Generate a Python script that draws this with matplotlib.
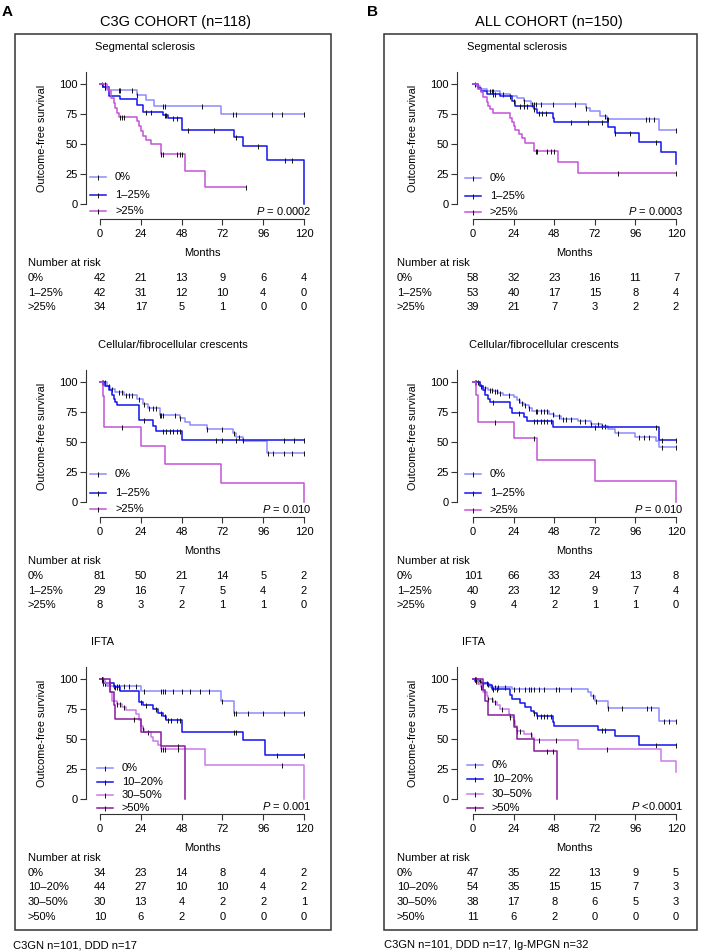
import numpy as np
import matplotlib
matplotlib.use('Agg')
import matplotlib.pyplot as plt
from matplotlib.lines import Line2D
from matplotlib.patches import Rectangle
from matplotlib import transforms

plt.rcParams['font.family'] = ['Liberation Sans', 'DejaVu Sans']
plt.rcParams['mathtext.fontset'] = 'custom'
plt.rcParams['mathtext.it'] = 'Liberation Sans:italic'
plt.rcParams['mathtext.rm'] = 'Liberation Sans'

W, H = 701, 951

months = [0, 24, 48, 72, 96, 120]
yticks = [0, 25, 50, 75, 100]

labels_3 = ['0%', '1\u201325%', '>25%']
labels_4 = ['0%', '10\u201320%', '30\u201350%', '>50%']

# step curves: (month, survival %) after each event; censor times separately
# C3G cohort, segmental sclerosis
seg_c3g_0 = [(0, 100), (2, 97.5), (4, 95), (22, 91), (27, 86.5), (32, 81.7), (71, 75)]
seg_c3g_0_cens = [1, 3, 11, 12, 19, 22, 37, 38, 60, 78, 80, 101, 107, 120]
seg_c3g_1 = [(0, 100), (2, 97.5), (5, 90), (12, 87.5), (22, 82.5), (25, 77), (37, 74), (40, 71.4),
             (48, 61.7), (79, 55.5), (84, 48.6), (98, 36.4), (120, 0)]
seg_c3g_1_cens = [3, 27, 30, 38, 39, 43, 45, 52, 67, 80, 93, 109, 113]
seg_c3g_2 = [(0, 100), (4, 97), (5.5, 94), (6.5, 88), (8, 84), (9, 80), (10, 76), (11, 72.7), (22, 69),
             (23, 65), (24, 61), (25.5, 57), (27, 53), (30, 50), (36, 41.4), (50, 27.6), (62, 13.8)]
seg_c3g_2_cens = [3, 12, 13, 14, 36, 37, 45, 47, 48, 86]
seg_c3g_risk = [[42, 21, 13, 9, 6, 4], [42, 31, 12, 10, 4, 0], [34, 17, 5, 1, 0, 0]]

# ALL cohort, segmental sclerosis
seg_all_0 = [(0, 100), (2, 98), (4, 96), (8, 94), (16, 92), (22, 90), (26, 88), (30, 85.5), (34, 83),
             (67, 80), (69, 77.5), (75, 73.5), (79, 70.5), (110, 61.5)]
seg_all_0_cens = [1, 3, 10, 11, 12, 18, 22, 30, 35, 36, 37, 40, 47, 60, 67, 78, 79, 80, 102, 104, 107, 120]
seg_all_1 = [(0, 100), (3, 97), (5, 94), (8, 92), (16, 90), (23, 86), (25, 81.5), (36, 79), (38, 76),
             (47, 72), (48, 68.5), (80, 64.5), (84, 59), (98, 51.5), (111, 43), (120, 33)]
seg_all_1_cens = [12, 13, 24, 28, 30, 32, 36, 39, 41, 43, 58, 68, 76, 84, 93, 108]
seg_all_2 = [(0, 100), (3, 96), (5, 93), (6, 89), (8, 85), (9, 82), (10, 79), (12, 76), (22, 72),
             (23, 68.5), (24, 65), (25, 61.5), (27, 58), (29, 55), (31, 51), (36, 44), (50, 34.7), (62, 26)]
seg_all_2_cens = [37, 38, 44, 46, 48, 86, 120]
seg_all_risk = [[58, 32, 23, 16, 11, 7], [53, 40, 17, 15, 8, 4], [39, 21, 7, 3, 2, 2]]

# C3G cohort, crescents
cres_c3g_0 = [(0, 100), (4, 97), (6, 94), (9, 92), (14, 89), (22, 86), (25, 82), (28, 78), (35, 72.5),
              (47, 70), (50, 67), (53, 64), (63, 60.5), (78, 57.5), (80, 54.5), (84, 51), (98, 40.5)]
cres_c3g_0_cens = [1, 2, 3, 5, 7, 11, 13, 15, 17, 19, 23, 26, 29, 31, 33, 35, 36, 37, 44, 47, 63, 72,
                   79, 82, 99, 102, 108, 113, 120]
cres_c3g_1 = [(0, 100), (3, 97), (5, 93), (7, 89), (8, 86), (9, 83), (10, 80.5), (23, 68), (31, 63.5),
              (33, 59), (48, 51.7)]
cres_c3g_1_cens = [26, 37, 39, 41, 43, 45, 47, 68, 72, 80, 84, 108, 114, 120]
cres_c3g_2 = [(0, 100), (1.5, 88), (2.5, 62.5), (24, 47), (38, 31.5), (71, 15.5), (120, 0)]
cres_c3g_2_cens = [13]
cres_c3g_risk = [[81, 50, 21, 14, 5, 2], [29, 16, 7, 5, 4, 2], [8, 3, 2, 1, 1, 0]]

# ALL cohort, crescents
cres_all_0 = [(0, 100), (4, 97), (6, 95), (9, 93.5), (12, 92.5), (15, 91), (18, 89.5), (24, 87.5),
              (26, 85), (28, 82.5), (30, 80.5), (33, 78), (35, 75.5), (45, 73.5), (48, 71.5), (52, 69.5),
              (62, 67.5), (70, 65), (76, 63), (80, 60.5), (84, 57.5), (96, 54), (108, 51), (110, 46)]
cres_all_0_cens = [1, 2, 3, 5, 7, 10, 11, 13, 14, 16, 21, 27, 29, 31, 33, 37, 38, 40, 42, 44, 47, 51,
                   53, 55, 58, 63, 66, 70, 74, 76, 78, 86, 98, 101, 104, 112, 120]
cres_all_1 = [(0, 100), (4, 97), (6, 93), (7, 89), (9, 86), (10, 83), (22, 78.5), (23, 74), (30, 70.5),
              (32, 67.5), (47, 62.5), (110, 52)]
cres_all_1_cens = [12, 27, 36, 38, 40, 42, 44, 46, 72, 108, 112, 120]
cres_all_2 = [(0, 100), (1.5, 89), (3, 66.5), (24, 53), (38, 35), (72, 17.5), (120, 0)]
cres_all_2_cens = [13, 36]
cres_all_risk = [[101, 66, 33, 24, 13, 8], [40, 23, 12, 9, 7, 4], [9, 4, 2, 1, 1, 0]]

# C3G cohort, IFTA
ifta_c3g_0 = [(0, 100), (1.5, 97), (4, 94), (24, 90), (71, 82), (79, 71.4)]
ifta_c3g_0_cens = [1, 2, 3, 6, 8, 10, 11, 14, 17, 21, 26, 36, 37, 38, 43, 48, 53, 59, 64, 72, 79, 80,
                   87, 96, 108, 120]
ifta_c3g_1 = [(0, 100), (2, 97), (8, 93.5), (12, 90), (23, 81), (25, 78), (31, 75), (34, 72), (37, 69),
              (39, 65.5), (48, 55.5), (84, 49), (97, 36.5)]
ifta_c3g_1_cens = [1, 3, 5, 9, 10, 11, 24, 27, 33, 36, 38, 40, 42, 45, 47, 79, 80, 104, 120]
ifta_c3g_2 = [(0, 100), (3, 97), (5, 94), (6, 89), (7, 82), (10, 79.5), (13, 77), (15, 74), (21, 71),
              (23, 66), (24, 61), (25, 58), (26, 55.5), (30, 52), (31, 48.5), (34, 45), (36, 42), (62, 28),
              (120, 0)]
ifta_c3g_2_cens = [2, 10, 12, 14, 25, 28, 36, 37, 38, 46, 107]
ifta_c3g_3 = [(0, 100), (6, 89), (8, 78), (9, 67), (24, 55.5), (36, 44.5), (50, 0)]
ifta_c3g_3_cens = [1, 20, 46]
ifta_c3g_risk = [[34, 23, 14, 8, 4, 2], [44, 27, 10, 10, 4, 2], [30, 13, 4, 2, 2, 1], [10, 6, 2, 0, 0, 0]]

# ALL cohort, IFTA
ifta_all_0 = [(0, 100), (2, 98), (4, 95.7), (10, 93.5), (23, 92), (68, 89), (70, 86), (72, 82), (80, 76),
              (110, 65)]
ifta_all_0_cens = [1, 3, 6, 9, 11, 13, 15, 19, 24, 27, 31, 33, 34, 36, 39, 42, 49, 51, 58, 71, 73, 80,
                   88, 103, 105, 113, 116, 120]
ifta_all_1 = [(0, 100), (1, 98), (5, 97), (9, 95), (11, 91.5), (22, 87), (23, 83), (28, 80), (31, 76.5),
              (34, 73), (36, 72), (38, 69), (47, 64), (48, 61), (74, 57.5), (84, 52.5), (98, 45)]
ifta_all_1_cens = [2, 4, 8, 12, 14, 36, 38, 40, 42, 44, 46, 76, 78, 108, 120]
ifta_all_2 = [(0, 100), (3, 96), (5, 93), (6, 89), (8, 86), (9, 83), (12, 81), (14, 78), (16, 75),
              (21, 71), (22, 68.5), (24, 65), (25, 61), (26, 57), (30, 54), (35, 51), (36, 49), (62, 42),
              (111, 31.5), (120, 22.5)]
ifta_all_2_cens = [2, 5, 9, 11, 13, 17, 22, 24, 26, 28, 34, 39, 49, 79]
ifta_all_3 = [(0, 100), (6, 91), (7, 82), (9, 70), (24, 60), (26, 50), (36, 40), (49.5, 0)]
ifta_all_3_cens = [1, 44, 47]
ifta_all_risk = [[47, 35, 22, 13, 9, 5], [54, 35, 15, 15, 7, 3], [38, 17, 8, 6, 5, 3], [11, 6, 2, 0, 0, 0]]

col_light = '#8c8cff'
col_blue = '#1414ee'
col_violet = '#c452d6'
col_lilac = '#cc7ae8'
col_purple = '#8a1a9c'
colors_3 = [col_light, col_blue, col_violet]
colors_4 = [col_light, col_blue, col_lilac, col_purple]

fig = plt.figure(figsize=(W / 100, H / 100), dpi=100)


def fx(x):
    return x / W


def fy(y):
    return 1 - y / H


def step_xy(pts, cens):
    t = [p[0] for p in pts]
    s = [p[1] for p in pts]
    end = max(t[-1], max(cens))
    return t + [end], s + [s[-1]]


def surv_at(pts, c):
    t = np.array([p[0] for p in pts])
    s = np.array([p[1] for p in pts])
    i = np.searchsorted(t, c, side='right') - 1
    return s[i]


# column layout (pixels)
cols = {
    'L': dict(x0=100, x1=304, off=14, ylab=42, risk=28),
    'R': dict(x0=473, x1=676, off=16, ylab=413, risk=397),
}
rows = [204, 502, 799]


def panel(col, row, subtitle, sub_x, curves, labels, colors, risk, pval, leg_x, leg_dy):
    c = cols[col]
    x0, x1 = c['x0'], c['x1']
    zero = rows[row]
    ax = fig.add_axes([fx(x0), fy(zero), (x1 - x0) / W, 132 / H])
    ax.set_xlim(0, 120)
    ax.set_ylim(0, 110)
    for (pts, cens), colr in zip(curves, colors):
        t, s = step_xy(pts, cens)
        ax.step(t, s, where='post', color=colr, lw=1.1, clip_on=False)
        ax.plot(cens, [surv_at(pts, v) for v in cens], ls='none', marker='|', ms=3.6,
                mew=0.7, color='#111111', clip_on=False)
    for side in ['top', 'right']:
        ax.spines[side].set_visible(False)
    ax.spines['left'].set_position(('outward', c['off'] * 0.72))
    ax.spines['bottom'].set_position(('outward', 15 * 0.72))
    ax.spines['left'].set_bounds(0, 110)
    ax.spines['bottom'].set_bounds(0, 120)
    for side in ['left', 'bottom']:
        ax.spines[side].set_linewidth(0.8)
        ax.spines[side].set_color('#333333')
    ax.set_xticks(months)
    ax.set_yticks(yticks)
    ax.tick_params(axis='both', labelsize=8, length=4, width=0.8, color='#333333')
    ax.tick_params(axis='x', pad=3)
    ax.tick_params(axis='y', pad=2)
    ax.patch.set_alpha(0)

    fig.text(fx(sub_x), fy(zero - 157), subtitle, ha='left', va='center', fontsize=8)
    fig.text(fx(c['ylab']), fy(zero - 66), 'Outcome-free survival', rotation=90,
             ha='center', va='center', fontsize=7.8)
    fig.text(fx((x0 + x1) / 2), fy(zero + 49), 'Months', ha='center', va='center', fontsize=8)
    fig.text(fx(x1 + 8), fy(zero + 7), pval, ha='right', va='center', fontsize=8)

    # legend
    for lab, colr, dy in zip(labels, colors, leg_dy):
        yy = fy(zero + dy)
        fig.add_artist(Line2D([fx(leg_x), fx(leg_x + 16)], [yy, yy], color=colr, lw=1.1,
                              transform=fig.transFigure))
        fig.add_artist(Line2D([fx(leg_x + 8)], [yy], marker='|', ms=3.6, mew=0.7, color='#111111',
                              transform=fig.transFigure))
        fig.text(fx(leg_x + 25), yy, lab, ha='left', va='center', fontsize=8)

    # number at risk table
    fig.text(fx(c['risk']), fy(zero + 59), 'Number at risk', ha='left', va='center', fontsize=8)
    trans = transforms.blended_transform_factory(ax.transData, fig.transFigure)
    for i, (lab, vals) in enumerate(zip(labels, risk)):
        yy = fy(zero + 74 + 14.5 * i)
        fig.text(fx(c['risk']), yy, lab, ha='left', va='center', fontsize=8)
        for m, v in zip(months, vals):
            ax.text(m, yy, str(v), transform=trans, ha='center', va='center', fontsize=8, clip_on=False)


panel('L', 0, 'Segmental sclerosis', 95,
      [(seg_c3g_0, seg_c3g_0_cens), (seg_c3g_1, seg_c3g_1_cens), (seg_c3g_2, seg_c3g_2_cens)],
      labels_3, colors_3, seg_c3g_risk, '$P$ = 0.0002', 90, [-27, -9, 7])
panel('R', 0, 'Segmental sclerosis', 467,
      [(seg_all_0, seg_all_0_cens), (seg_all_1, seg_all_1_cens), (seg_all_2, seg_all_2_cens)],
      labels_3, colors_3, seg_all_risk, '$P$ = 0.0003', 465, [-26, -8, 8])
panel('L', 1, 'Cellular/fibrocellular crescents', 98,
      [(cres_c3g_0, cres_c3g_0_cens), (cres_c3g_1, cres_c3g_1_cens), (cres_c3g_2, cres_c3g_2_cens)],
      labels_3, colors_3, cres_c3g_risk, '$P$ = 0.010', 90, [-28, -9, 7])
panel('R', 1, 'Cellular/fibrocellular crescents', 469,
      [(cres_all_0, cres_all_0_cens), (cres_all_1, cres_all_1_cens), (cres_all_2, cres_all_2_cens)],
      labels_3, colors_3, cres_all_risk, '$P$ = 0.010', 465, [-28, -9, 8])
panel('L', 2, 'IFTA', 91,
      [(ifta_c3g_0, ifta_c3g_0_cens), (ifta_c3g_1, ifta_c3g_1_cens), (ifta_c3g_2, ifta_c3g_2_cens),
       (ifta_c3g_3, ifta_c3g_3_cens)],
      labels_4, colors_4, ifta_c3g_risk, '$P$ = 0.001', 97, [-31, -17, -4, 9])
panel('R', 2, 'IFTA', 462,
      [(ifta_all_0, ifta_all_0_cens), (ifta_all_1, ifta_all_1_cens), (ifta_all_2, ifta_all_2_cens),
       (ifta_all_3, ifta_all_3_cens)],
      labels_4, colors_4, ifta_all_risk, '$P$ <0.0001', 467, [-34, -20, -5, 9])

# boxes around each cohort
for left, right in [(15, 331), (384, 697)]:
    fig.add_artist(Rectangle((fx(left), fy(930)), (right - left) / W, (930 - 34) / H,
                             transform=fig.transFigure, fill=False, lw=1.1, ec='#333333'))

fig.text(fx(2), fy(12), 'A', ha='left', va='center', fontsize=11, fontweight='bold')
fig.text(fx(367), fy(12), 'B', ha='left', va='center', fontsize=11, fontweight='bold')
fig.text(fx(176), fy(22), 'C3G COHORT (n=118)', ha='center', va='center', fontsize=10.5)
fig.text(fx(549), fy(22), 'ALL COHORT (n=150)', ha='center', va='center', fontsize=10.5)
fig.text(fx(13), fy(945), 'C3GN n=101, DDD n=17', ha='left', va='center', fontsize=8)
fig.text(fx(384), fy(945), 'C3GN n=101, DDD n=17, Ig-MPGN n=32', ha='left', va='center', fontsize=8)

fig.savefig('out.png', dpi=100)
